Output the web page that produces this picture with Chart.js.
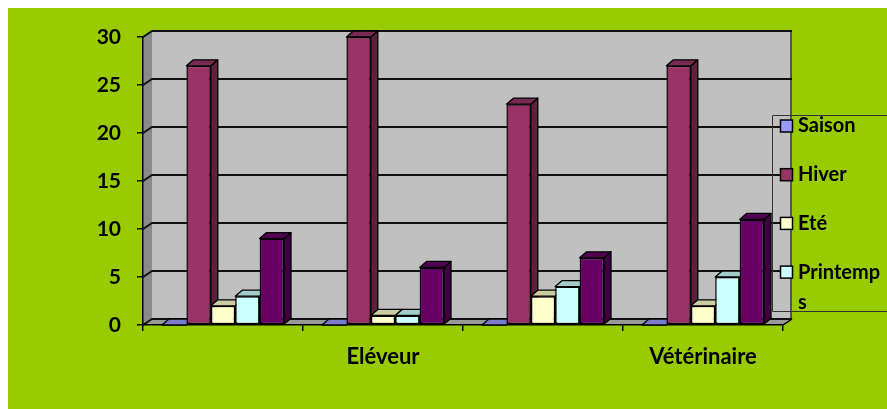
<!DOCTYPE html>
<html>
<head>
<meta charset="utf-8">
<script src="https://cdn.jsdelivr.net/npm/chart.js@4"></script>
<style>
  html, body { margin: 0; padding: 0; background: #ffffff; }
  canvas { display: block; }
</style>
</head>
<body>
<canvas id="c" width="887" height="409"></canvas>
<script>
// Categories and series values
const categories = ['', 'Eléveur', '', 'Vétérinaire'];
const seriesNames = ['Saison', 'Hiver', 'Eté', 'Printemps', 'Automne'];
const saison    = [0, 0, 0, 0];
const hiver     = [27, 30, 23, 27];
const ete       = [2, 1, 3, 2];
const printemps = [3, 1, 4, 5];
const automne   = [9, 6, 7, 11];
const yMax = 30;
const yStep = 5;

const seriesColors = ['#9999FF', '#993366', '#FFFFCC', '#CCFFFF', '#660066'];
const seriesValues = [saison, hiver, ete, printemps, automne];

const FONT = 'Lato, "Open Sans", sans-serif';
const BAR_DX = 7, BAR_DY = 6;   // depth offset of the columns
const WALL_DX = 9, WALL_DY = 6; // depth offset of the walls

function shade(hex, f) {
  const n = parseInt(hex.slice(1), 16);
  const r = Math.round(((n >> 16) & 255) * f);
  const g = Math.round(((n >> 8) & 255) * f);
  const b = Math.round((n & 255) * f);
  return `rgb(${r},${g},${b})`;
}

// Background, walls, floor and back-wall gridlines
const walls = {
  id: 'walls',
  beforeDraw(chart) {
    const ctx = chart.ctx;
    const { left, right } = chart.chartArea;
    const y = chart.scales.y;
    ctx.save();
    ctx.fillStyle = '#ffffff';
    ctx.fillRect(0, 0, chart.width, chart.height);
    ctx.fillStyle = '#99CC00';
    ctx.fillRect(8, 8, chart.width - 8, chart.height - 8);

    const yt = y.getPixelForValue(yMax);
    const yb = y.getPixelForValue(0);

    // back wall
    ctx.fillStyle = '#C0C0C0';
    ctx.fillRect(left + WALL_DX, yt - WALL_DY, right - left, yb - yt);
    // left side wall
    ctx.fillStyle = '#8a8a8a';
    ctx.beginPath();
    ctx.moveTo(left, yt);
    ctx.lineTo(left + WALL_DX, yt - WALL_DY);
    ctx.lineTo(left + WALL_DX, yb - WALL_DY);
    ctx.lineTo(left, yb);
    ctx.closePath();
    ctx.fill();
    // floor
    ctx.fillStyle = '#999999';
    ctx.beginPath();
    ctx.moveTo(left, yb);
    ctx.lineTo(left + WALL_DX, yb - WALL_DY);
    ctx.lineTo(right + WALL_DX, yb - WALL_DY);
    ctx.lineTo(right, yb);
    ctx.closePath();
    ctx.fill();
    ctx.strokeStyle = '#000';
    ctx.lineWidth = 1.5;
    ctx.beginPath();
    ctx.moveTo(right, yb);
    ctx.lineTo(right + WALL_DX, yb - WALL_DY);
    ctx.stroke();

    // right edge of back wall
    ctx.strokeStyle = '#555';
    ctx.lineWidth = 2;
    ctx.beginPath();
    ctx.moveTo(right + WALL_DX - 1, yt - WALL_DY);
    ctx.lineTo(right + WALL_DX - 1, yb - WALL_DY);
    ctx.stroke();

    // gridlines across the side wall and back wall
    ctx.strokeStyle = '#111';
    ctx.lineWidth = 2;
    for (let v = 0; v <= yMax; v += yStep) {
      const py = y.getPixelForValue(v);
      ctx.beginPath();
      ctx.moveTo(left, py);
      ctx.lineTo(left + WALL_DX, py - WALL_DY);
      ctx.lineTo(right + WALL_DX, py - WALL_DY);
      ctx.stroke();
    }
    ctx.restore();
  }
};

// Top and side faces of the columns
const columns3d = {
  id: 'columns3d',
  beforeDatasetsDraw(chart) {
    const ctx = chart.ctx;
    ctx.save();
    ctx.lineWidth = 1.3;
    ctx.strokeStyle = '#000';
    ctx.lineJoin = 'round';
    for (let i = 0; i < categories.length; i++) {
      chart.data.datasets.forEach((ds, d) => {
        const el = chart.getDatasetMeta(d).data[i];
        if (!el) return;
        const { x, y, base, width } = el.getProps(['x', 'y', 'base', 'width'], true);
        const l = x - width / 2, r = x + width / 2;
        const t = Math.min(y, base);
        const col = seriesColors[d];
        // side face
        if (base - t > 0.5) {
          ctx.fillStyle = shade(col, 0.62);
          ctx.beginPath();
          ctx.moveTo(r, t);
          ctx.lineTo(r + BAR_DX, t - BAR_DY);
          ctx.lineTo(r + BAR_DX, base - BAR_DY);
          ctx.lineTo(r, base);
          ctx.closePath();
          ctx.fill();
          ctx.stroke();
        }
        // top face
        ctx.fillStyle = shade(col, 0.8);
        ctx.beginPath();
        ctx.moveTo(l, t);
        ctx.lineTo(l + BAR_DX, t - BAR_DY);
        ctx.lineTo(r + BAR_DX, t - BAR_DY);
        ctx.lineTo(r, t);
        ctx.closePath();
        ctx.fill();
        ctx.stroke();
      });
    }
    ctx.restore();
  }
};

// Legend box at the right edge
const sideLegend = {
  id: 'sideLegend',
  afterDraw(chart) {
    const ctx = chart.ctx;
    const bx = 772.5, by = 115.5, bb = 311.5;
    ctx.save();
    ctx.beginPath();
    ctx.rect(bx, by, chart.width - bx + 10, bb - by);
    ctx.clip();
    ctx.font = `bold 20px ${FONT}`;
    ctx.textBaseline = 'middle';
    ctx.textAlign = 'left';
    const textX = 798;
    const maxW = chart.width - textX;
    chart.data.datasets.forEach((ds, d) => {
      const cy = 126 + d * 48.7;
      ctx.fillStyle = seriesColors[d];
      ctx.fillRect(780.5, cy - 6, 12, 12);
      ctx.strokeStyle = '#000';
      ctx.lineWidth = 1.5;
      ctx.strokeRect(780.5, cy - 6, 12, 12);
      // wrap label by characters to the available width
      const lines = [];
      let cur = '';
      for (const ch of ds.label) {
        if (ctx.measureText(cur + ch).width > maxW && cur) {
          lines.push(cur);
          cur = ch;
        } else {
          cur += ch;
        }
      }
      lines.push(cur);
      ctx.fillStyle = '#000';
      lines.forEach((ln, k) => ctx.fillText(ln, textX, cy + k * 30));
    });
    ctx.restore();
    ctx.save();
    ctx.strokeStyle = '#333';
    ctx.lineWidth = 1;
    ctx.beginPath();
    ctx.moveTo(chart.width, by);
    ctx.lineTo(bx, by);
    ctx.lineTo(bx, bb);
    ctx.lineTo(chart.width, bb);
    ctx.stroke();
    ctx.restore();
  }
};

new Chart(document.getElementById('c'), {
  type: 'bar',
  data: {
    labels: categories,
    datasets: seriesNames.map((name, d) => ({
      label: name,
      data: seriesValues[d],
      backgroundColor: seriesColors[d],
      borderColor: '#000',
      borderWidth: 1.5,
      borderSkipped: false,
      categoryPercentage: 0.7625,
      barPercentage: 1
    }))
  },
  options: {
    responsive: false,
    animation: false,
    devicePixelRatio: 1,
    layout: { padding: { top: 37, right: 104, left: 0, bottom: 0 } },
    plugins: {
      legend: { display: false },
      tooltip: { enabled: false }
    },
    scales: {
      x: {
        grid: { drawOnChartArea: false, drawTicks: true, tickLength: 6, color: '#000', lineWidth: 1.5 },
        border: { display: true, color: '#000', width: 1.5 },
        ticks: { font: { family: FONT, size: 22, weight: 'bold' }, color: '#000', padding: 13, maxRotation: 0, autoSkip: false },
        afterFit(scale) { scale.height = 84; }
      },
      y: {
        min: 0,
        max: yMax,
        ticks: { stepSize: yStep, font: { family: FONT, size: 21, weight: 'bold' }, color: '#000', padding: 16 },
        grid: { drawOnChartArea: false, drawTicks: true, tickLength: 6, color: '#000', lineWidth: 1.5 },
        border: { display: true, color: '#000', width: 1.5 },
        afterFit(scale) { scale.width = 143; }
      }
    }
  },
  plugins: [walls, columns3d, sideLegend]
});
</script>
</body>
</html>
